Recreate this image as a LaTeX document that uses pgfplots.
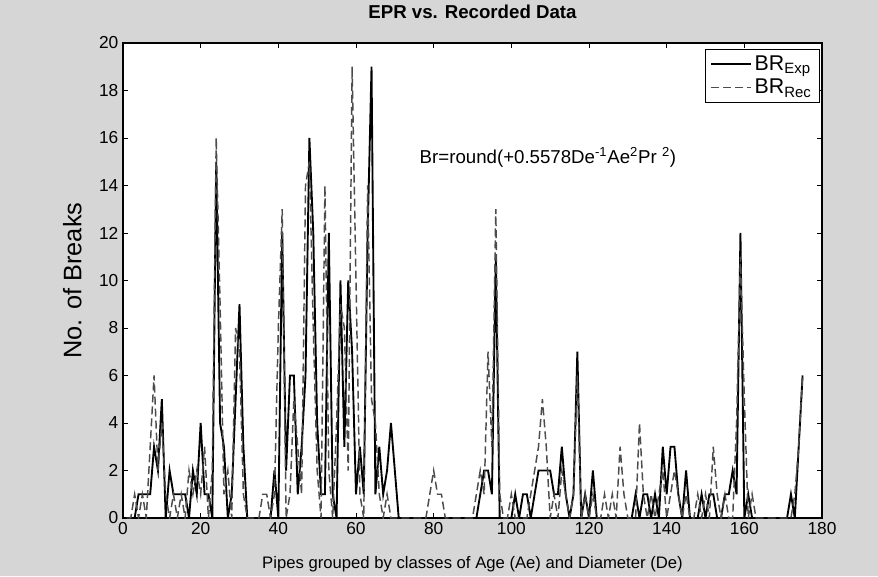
\documentclass[border=0pt]{standalone}
\usepackage{fontspec}
\setmainfont{Liberation Sans}
\usepackage{pgfplots}
\pgfplotsset{compat=1.18}
\definecolor{figbg}{HTML}{D6D6D6}

\pgfplotsset{
  every axis y label/.style={at={(axis description cs:-0.0725,0.5)},rotate=90,anchor=center},
  every axis x label/.style={at={(axis description cs:0.5,-0.098)},anchor=center},
  every axis title/.style={at={(axis description cs:0.5,1.065)},anchor=center},
}

\begin{document}
\begin{tikzpicture}
\fill[figbg] (-92.25pt,-43.5pt) rectangle (566.25pt,388.5pt);
\begin{axis}[
  scale only axis,
  width=524.25pt, height=356.25pt,
  xmin=0, xmax=180, ymin=0, ymax=20,
  xtick={0,20,...,180}, ytick={0,2,...,20},
  tick align=inside,
  major tick length=4pt,
  tick style={black,line width=0.6pt},
  axis line style={black,line width=1.3pt},
  axis background/.style={fill=white},
  /pgf/number format/assume math mode=true,
  tick label style={font=\fontsize{13}{15}\selectfont},
  title={\fontsize{14}{16}\selectfont\bfseries EPR vs. Recorded Data},
  xlabel={\fontsize{12.5}{14}\selectfont Pipes grouped by classes of Age (Ae) and Diameter (De)},
  ylabel={\fontsize{19}{21}\selectfont No. of Breaks},
  legend style={at={(rel axis cs:0.997,0.988)},anchor=north east,
    draw=black,line width=0.5pt,fill=white,
    font=\fontsize{16}{18}\selectfont,
    row sep=1pt, inner xsep=4pt, inner ysep=3pt},
  legend cell align=left,
  every axis legend/.append style={/tikz/every even column/.append style={column sep=2pt}},
  legend image code/.code={\draw[#1,line width=1.3pt] (0cm,0cm) -- (1.05cm,0cm);},
]
\addplot[black, line width=1.4pt] coordinates {
(1,0)(2,0)(3,0)(4,1)(5,1)(6,1)(7,1)(8,3)(9,2)(10,5)
(11,0)(12,2)(13,1)(14,1)(15,1)(16,1)(17,0)(18,2)(19,1)(20,4)
(21,1)(22,1)(23,0)(24,15)(25,4)(26,3)(27,0)(28,1)(29,5)(30,9)
(31,3)(32,0)(33,0)(34,0)(35,0)(36,0)(37,0)(38,0)(39,2)(40,0)
(41,12)(42,2)(43,6)(44,6)(45,1)(46,3)(47,6)(48,16)(49,12)(50,4)
(51,1)(52,1)(53,12)(54,1)(55,0)(56,10)(57,3)(58,10)(59,7)(60,1)
(61,3)(62,1)(63,12)(64,19)(65,1)(66,3)(67,1)(68,2)(69,4)(70,2)
(71,0)(72,0)(80,0)(90,0)(91,0)(92,1)(93,2)(94,2)(95,1)(96,11)
(97,0)(98,0)(99,0)(100,0)(101,1)(102,0)(103,1)(104,1)(105,0)(106,1)
(107,2)(108,2)(109,2)(110,2)(111,1)(112,1)(113,3)(114,1)(115,0)(116,1)
(117,7)(118,0)(119,1)(120,0)(121,2)(122,0)(131,0)(132,1)(133,0)(134,1)
(135,1)(136,0)(137,1)(138,0)(139,3)(140,1)(141,3)(142,3)(143,1)(144,0)
(145,2)(146,0)(147,0)(148,0)(149,1)(150,0)(151,1)(152,1)(153,0)(154,0)
(155,1)(156,1)(157,2)(158,1)(159,12)(160,0)(161,1)(162,0)(171,0)(172,1)
(173,0)(174,3)(175,6)
};
\addlegendentry{BR\textsubscript{Exp}}
\addplot[black!70, line width=1.1pt, dash pattern=on 6pt off 3pt] coordinates {
(1,0)(2,0)(3,1)(4,0)(5,1)(6,0)(7,3)(8,6)(9,2)(10,4)
(11,1)(12,0)(13,1)(14,0)(15,1)(16,0)(17,2)(18,1)(19,2)(20,1)
(21,3)(22,0)(23,2)(24,16)(25,9)(26,1)(27,2)(28,0)(29,8)(30,7)
(31,1)(32,0)(35,0)(36,1)(37,1)(38,0)(39,1)(40,8)
(41,13)(42,0)(43,1)(44,5)(45,3)(46,1)(47,14)(48,15)(49,8)(50,2)
(51,0)(52,14)(53,2)(54,0)(55,4)(56,9)(57,8)(58,2)(59,19)(60,10)
(61,1)(62,0)(63,14)(64,5)(65,4)(66,1)(67,0)(68,1)(69,0)(78,0)
(79,1)(80,2)(81,1)(82,1)(83,0)(90,0)(91,1)(92,2)(93,1)(94,7)
(95,3)(96,13)(97,1)(98,0)(99,0)(100,1)(101,0)(104,0)(105,1)(106,2)
(107,3)(108,5)(109,3)(110,0)(111,1)(112,0)(113,2)(114,1)(115,0)(116,1)
(117,6)(118,0)(119,1)(120,0)(121,1)(122,0)(123,0)(124,1)(125,0)(126,1)
(127,0)(128,3)(129,1)(130,0)(131,0)(132,0)(133,4)(134,1)(135,0)(136,1)
(137,0)(138,1)(139,2)(140,0)(141,1)(142,2)(143,1)(144,0)(145,1)(146,0)
(147,0)(148,1)(149,0)(150,1)(151,0)(152,3)(153,1)(154,0)(155,1)(156,0)
(157,0)(158,4)(159,11)(160,5)(161,0)(162,1)(163,0)(172,0)(173,1)(174,3)
(175,6)
};
\addlegendentry{BR\textsubscript{Rec}}
\node[anchor=west, font=\fontsize{14}{16}\selectfont] at (axis cs:75.2,15.2)
  {Br=round(+0.5578De\textsuperscript{-1}Ae\textsuperscript{2}Pr \textsuperscript{2})};
\end{axis}
\end{tikzpicture}
\end{document}
